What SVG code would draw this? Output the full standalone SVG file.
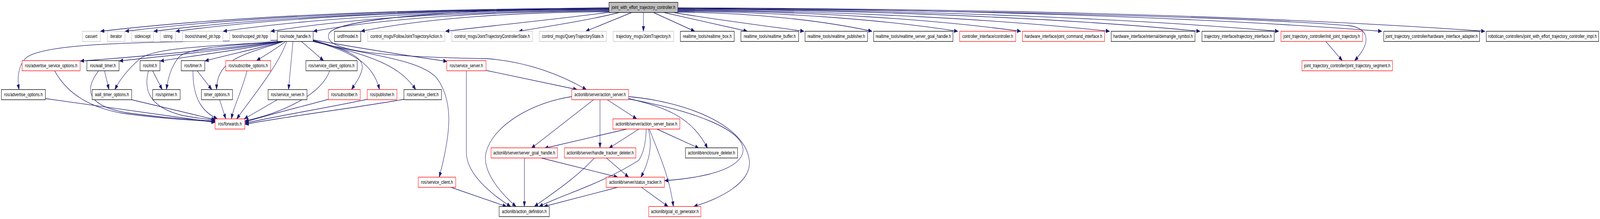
<svg xmlns="http://www.w3.org/2000/svg" width="5712" height="560" viewBox="0 0 5712 560" preserveAspectRatio="none">
<style>
svg{max-width:100vw;max-height:100vh}
rect{fill:#fff;stroke-width:1.33}
.g{stroke:#bfbfbf}
.k{stroke:#000}
.r{stroke:#f00}
.top{fill:#bfbfbf;stroke:#000}
text{font-family:"Liberation Sans",Arial,sans-serif;font-size:13.33px;text-anchor:middle;fill:#000}
#edges path{fill:none;stroke:#191970;stroke-width:1.33;marker-end:url(#a)}
</style>
<defs>
<marker id="a" markerUnits="userSpaceOnUse" markerWidth="14" markerHeight="11" refX="13" refY="5.5" orient="auto">
<path d="M0,0.8 L13,5.5 L0,10.2 z" fill="#191970" stroke="#191970" stroke-width="1"/>
</marker>
</defs>
<rect x="0" y="0" width="5712" height="560" style="fill:#fff;stroke:none"/>
<g id="edges">
<path d="M2174,21 C1448,22 813,42 359,80"/>
<path d="M2174,22 C1483,23 879,42 447,80"/>
<path d="M2174,23 C1524,24 955,43 549,80"/>
<path d="M2174,24 C1556,25 1015,43 628,80"/>
<path d="M2174,25 C1623,26 1141,44 797,80"/>
<path d="M2174,27 C1691,28 1269,45 967,80"/>
<path d="M2174,28 C1752,29 1383,46 1119,80"/>
<path d="M2174,30 C1820,31 1510,48 1289,80"/>
<path d="M2174,31 C2080,42 1800,62 1591,80"/>
<path d="M2211,32 C2100,52 1950,68 1852,80"/>
<path d="M2255,32 L2091,80"/>
<path d="M2297,32 L2297,80"/>
<path d="M2333,32 L2480,80"/>
<path d="M2370,32 L2668,80"/>
<path d="M2405,32 C2550,50 2750,68 2870,80"/>
<path d="M2420,31 C2697,33 2940,53 3113,80"/>
<path d="M2420,29 C2820,31 3169,52 3419,80"/>
<path d="M2420,27 C2910,29 3338,50 3644,80"/>
<path d="M2420,26 C3036,28 3576,50 3961,80"/>
<path d="M2420,24 C3166,26 3818,48 4284,80"/>
<path d="M2420,23 C3278,25 4029,47 4565,80"/>
<path d="M2420,21 C3425,23 4305,45 4933,80"/>
<path d="M2420,20 C3572,22 4581,43 5301,80"/>
<path d="M2420,22 C3400,24 4500,45 4820,66 C4890,74 4895,110 4836,155"/>
<path d="M2174,20 C1700,22 1210,45 1175,85 C1150,125 1300,145 1740,150 C1880,158 2000,190 2093,229"/>
<path d="M4733,106 L4792,155"/>
<path d="M995,106 C800,125 500,145 287,156"/>
<path d="M1000,106 C850,125 600,142 426,156"/>
<path d="M1005,106 C880,125 700,142 572,156"/>
<path d="M1010,106 C900,128 800,142 732,156"/>
<path d="M1020,106 C985,125 950,140 916,155"/>
<path d="M990,103 C600,108 150,105 90,150 C62,172 62,205 68,229"/>
<path d="M995,106 C800,118 560,118 500,150 C460,175 430,200 410,229"/>
<path d="M1000,106 C850,115 680,120 640,145 C610,170 600,200 594,229"/>
<path d="M1012,106 C870,140 775,150 773,229"/>
<path d="M1046,106 L1030,229"/>
<path d="M1076,106 L1155,155"/>
<path d="M1118,103 C1230,125 1300,145 1293,175 C1288,195 1270,212 1255,229"/>
<path d="M1118,104 C1260,135 1330,160 1355,229"/>
<path d="M1118,105 C1300,140 1420,160 1484,229"/>
<path d="M1118,102 C1300,125 1450,142 1596,157"/>
<path d="M1118,106 C1300,140 1500,150 1560,200 C1620,260 1610,340 1568,453"/>
<path d="M1024,106 C990,170 920,230 845,304"/>
<path d="M195,181 C240,240 320,275 440,290 C600,305 700,308 768,311"/>
<path d="M373,181 L389,229"/>
<path d="M352,181 C300,230 310,270 450,288 C600,303 700,307 768,309"/>
<path d="M545,181 L579,229"/>
<path d="M530,181 C510,235 540,275 650,295 C700,302 740,305 768,307"/>
<path d="M704,181 L756,229"/>
<path d="M689,181 C688,250 720,285 776,304"/>
<path d="M882,181 C860,240 835,270 826,304"/>
<path d="M162,252 L768,313"/>
<path d="M470,255 L768,306"/>
<path d="M784,255 L806,304"/>
<path d="M990,255 L872,304"/>
<path d="M1177,181 C1145,245 1000,290 875,309"/>
<path d="M1172,254 C1080,272 950,295 875,312"/>
<path d="M1311,254 C1150,278 980,298 875,315"/>
<path d="M1442,254 C1250,278 1000,300 875,318"/>
<path d="M1735,180 L2060,229"/>
<path d="M1665,181 L1665,390 C1665,440 1740,490 1823,528"/>
<path d="M1610,479 L1808,528"/>
<path d="M2119,255 L1897,379"/>
<path d="M2142,255 L2142,378"/>
<path d="M2168,255 L2273,304"/>
<path d="M2041,247 C1900,262 1760,320 1735,390 C1720,440 1790,495 1842,528"/>
<path d="M2244,252 C2380,275 2470,300 2526,379"/>
<path d="M2244,253 C2450,280 2680,330 2650,395 C2620,445 2450,458 2373,462"/>
<path d="M2244,247 C2450,260 2660,320 2675,410 C2685,470 2560,510 2477,528"/>
<path d="M2238,330 L1944,379"/>
<path d="M2281,330 L2174,379"/>
<path d="M2307,330 C2305,380 2290,400 2280,410 C2150,470 2000,500 1925,528"/>
<path d="M2315,330 C2330,370 2320,410 2288,453"/>
<path d="M2318,330 C2350,390 2390,450 2404,528"/>
<path d="M2345,330 L2495,379"/>
<path d="M1932,404 L2205,453"/>
<path d="M1872,404 L1872,528"/>
<path d="M2165,404 L2244,453"/>
<path d="M2122,404 C2050,460 1960,500 1908,528"/>
<path d="M2205,479 L1942,528"/>
<path d="M2290,479 L2385,528"/>
</g>
<g id="n0"><rect class="top" x="2174" y="6" width="246" height="26"/><text x="2297" y="23.5">joint_with_effort_trajectory_controller.h</text></g>
<g id="n1"><rect class="g" x="294" y="80" width="64" height="26"/><text x="326" y="97.5">cassert</text></g>
<g id="n2"><rect class="g" x="383" y="80" width="63" height="26"/><text x="414.5" y="97.5">iterator</text></g>
<g id="n3"><rect class="g" x="470" y="80" width="78" height="26"/><text x="509" y="97.5">stdexcept</text></g>
<g id="n4"><rect class="g" x="572" y="80" width="55" height="26"/><text x="599.5" y="97.5">string</text></g>
<g id="n5"><rect class="g" x="652" y="80" width="144" height="26"/><text x="724" y="97.5">boost/shared_ptr.hpp</text></g>
<g id="n6"><rect class="g" x="820" y="80" width="146" height="26"/><text x="893" y="97.5">boost/scoped_ptr.hpp</text></g>
<g id="n7"><rect class="k" x="990" y="80" width="128" height="26"/><text x="1054" y="97.5">ros/node_handle.h</text></g>
<g id="n8"><rect class="k" x="1194" y="80" width="94" height="26"/><text x="1241" y="97.5">urdf/model.h</text></g>
<g id="n9"><rect class="g" x="1313" y="80" width="275" height="26"/><text x="1450.5" y="97.5">control_msgs/FollowJointTrajectoryAction.h</text></g>
<g id="n10"><rect class="g" x="1613" y="80" width="288" height="26"/><text x="1757" y="97.5">control_msgs/JointTrajectoryControllerState.h</text></g>
<g id="n11"><rect class="g" x="1925" y="80" width="240" height="26"/><text x="2045" y="97.5">control_msgs/QueryTrajectoryState.h</text></g>
<g id="n12"><rect class="g" x="2189" y="80" width="216" height="26"/><text x="2297" y="97.5">trajectory_msgs/JointTrajectory.h</text></g>
<g id="n13"><rect class="k" x="2429" y="80" width="192" height="26"/><text x="2525" y="97.5">realtime_tools/realtime_box.h</text></g>
<g id="n14"><rect class="k" x="2645" y="80" width="206" height="26"/><text x="2748" y="97.5">realtime_tools/realtime_buffer.h</text></g>
<g id="n15"><rect class="k" x="2874" y="80" width="223" height="26"/><text x="2985.5" y="97.5">realtime_tools/realtime_publisher.h</text></g>
<g id="n16"><rect class="k" x="3119" y="80" width="283" height="26"/><text x="3260.5" y="97.5">realtime_tools/realtime_server_goal_handle.h</text></g>
<g id="n17"><rect class="r" x="3426" y="80" width="200" height="26"/><text x="3526" y="97.5">controller_interface/controller.h</text></g>
<g id="n18"><rect class="r" x="3650" y="80" width="293" height="26"/><text x="3796.5" y="97.5">hardware_interface/joint_command_interface.h</text></g>
<g id="n19"><rect class="k" x="3967" y="80" width="299" height="26"/><text x="4116.5" y="97.5">hardware_interface/internal/demangle_symbol.h</text></g>
<g id="n20"><rect class="k" x="4291" y="80" width="258" height="26"/><text x="4420" y="97.5">trajectory_interface/trajectory_interface.h</text></g>
<g id="n21"><rect class="r" x="4573" y="80" width="291" height="26"/><text x="4718.5" y="97.5">joint_trajectory_controller/init_joint_trajectory.h</text></g>
<g id="n22"><rect class="k" x="4940" y="80" width="342" height="26"/><text x="5111" y="97.5">joint_trajectory_controller/hardware_interface_adapter.h</text></g>
<g id="n23"><rect class="k" x="5306" y="80" width="401" height="26"/><text x="5506.5" y="97.5">robotican_controllers/joint_with_effort_trajectory_controller_impl.h</text></g>
<g id="n24"><rect class="r" x="79" y="155" width="207" height="26"/><text x="182.5" y="172.5">ros/advertise_service_options.h</text></g>
<g id="n25"><rect class="k" x="310" y="155" width="115" height="26"/><text x="367.5" y="172.5">ros/wall_timer.h</text></g>
<g id="n26"><rect class="k" x="500" y="155" width="71" height="26"/><text x="535.5" y="172.5">ros/init.h</text></g>
<g id="n27"><rect class="k" x="647" y="155" width="84" height="26"/><text x="689" y="172.5">ros/timer.h</text></g>
<g id="n28"><rect class="r" x="806" y="155" width="160" height="26"/><text x="886" y="172.5">ros/subscribe_options.h</text></g>
<g id="n29"><rect class="k" x="1092" y="155" width="183" height="26"/><text x="1183.5" y="172.5">ros/service_client_options.h</text></g>
<g id="n30"><rect class="r" x="1595" y="155" width="140" height="26"/><text x="1665" y="172.5">ros/service_server.h</text></g>
<g id="n31"><rect class="r" x="4648" y="155" width="323" height="26"/><text x="4809.5" y="172.5">joint_trajectory_controller/joint_trajectory_segment.h</text></g>
<g id="n32"><rect class="k" x="5" y="229" width="157" height="26"/><text x="83.5" y="246.5">ros/advertise_options.h</text></g>
<g id="n33"><rect class="k" x="329" y="229" width="141" height="26"/><text x="399.5" y="246.5">wall_timer_options.h</text></g>
<g id="n34"><rect class="k" x="545" y="229" width="98" height="26"/><text x="594" y="246.5">ros/spinner.h</text></g>
<g id="n35"><rect class="k" x="719" y="229" width="111" height="26"/><text x="774.5" y="246.5">timer_options.h</text></g>
<g id="n36"><rect class="k" x="957" y="229" width="139" height="26"/><text x="1026.5" y="246.5">ros/service_server.h</text></g>
<g id="n37"><rect class="r" x="1172" y="229" width="114" height="26"/><text x="1229" y="246.5">ros/subscriber.h</text></g>
<g id="n38"><rect class="r" x="1311" y="229" width="106" height="26"/><text x="1364" y="246.5">ros/publisher.h</text></g>
<g id="n39"><rect class="k" x="1442" y="229" width="134" height="26"/><text x="1509" y="246.5">ros/service_client.h</text></g>
<g id="n40"><rect class="r" x="2041" y="229" width="203" height="26"/><text x="2142.5" y="246.5">actionlib/server/action_server.h</text></g>
<g id="n41"><rect class="r" x="768" y="304" width="106" height="26"/><text x="821" y="321.5">ros/forwards.h</text></g>
<g id="n42"><rect class="r" x="2188" y="304" width="239" height="26"/><text x="2307.5" y="321.5">actionlib/server/action_server_base.h</text></g>
<g id="n43"><rect class="r" x="1753" y="378" width="237" height="26"/><text x="1871.5" y="395.5">actionlib/server/server_goal_handle.h</text></g>
<g id="n44"><rect class="r" x="2015" y="378" width="255" height="26"/><text x="2142.5" y="395.5">actionlib/server/handle_tracker_deleter.h</text></g>
<g id="n45"><rect class="k" x="2447" y="378" width="186" height="26"/><text x="2540" y="395.5">actionlib/enclosure_deleter.h</text></g>
<g id="n46"><rect class="r" x="1493" y="453" width="134" height="26"/><text x="1560" y="470.5">ros/service_client.h</text></g>
<g id="n47"><rect class="r" x="2164" y="453" width="208" height="26"/><text x="2268" y="470.5">actionlib/server/status_tracker.h</text></g>
<g id="n48"><rect class="k" x="1782" y="528" width="179" height="26"/><text x="1871.5" y="545.5">actionlib/action_definition.h</text></g>
<g id="n49"><rect class="r" x="2316" y="528" width="186" height="26"/><text x="2409" y="545.5">actionlib/goal_id_generator.h</text></g>
</svg>
